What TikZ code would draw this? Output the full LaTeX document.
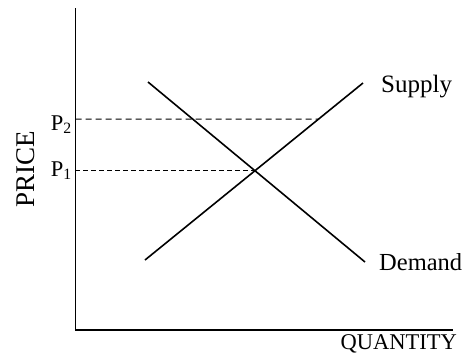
\documentclass[tikz,border=0pt]{standalone}
\usepackage{fontspec}
\setmainfont{Liberation Serif}
\usetikzlibrary{positioning,calc}

\begin{document}
\begin{tikzpicture}[
        x=1pt, y=-1pt,
        % Estilos
        axis/.style={line width=1.5pt},
        curve/.style={line width=1.6pt},
        guide/.style={line width=1pt, dash pattern=on 6pt off 4pt},
        lbl/.style={inner sep=0pt, font=\fontsize{25}{28}\selectfont}
    ]
        \useasboundingbox (0,0) rectangle (466,360);

        % Eixos
        \coordinate (origin) at (75.5,330);
        \coordinate (ytop) at (75.5,8);
        \coordinate (xend) at (453,330);
        \draw [axis] (ytop) -- (origin) -- (xend);

        % Curvas
        \coordinate (s0) at (145,260);
        \coordinate (s1) at (363,83);
        \coordinate (d0) at (148,82);
        \coordinate (d1) at (365,262);
        \draw [curve] (s0) -- (s1);
        \draw [curve] (d0) -- (d1);
        \coordinate (eq) at (intersection of s0--s1 and d0--d1);

        % Precos
        \coordinate (p1tick) at (75.5,171);
        \coordinate (p2tick) at (75.5,119);
        \coordinate (p2far) at (400,119);
        \coordinate (p2s) at (intersection of s0--s1 and p2tick--p2far);
        \draw [guide] (p2tick) -- (p2s);
        \draw [guide, dash pattern=on 5pt off 3pt] (p1tick) -- (eq -| p1tick) -- (eq);

        % Rotulos
        \node (supply) [lbl, anchor=base west] at (381,92) {Supply};
        \node (demand) [lbl, anchor=base west, font=\fontsize{24.5}{28}\selectfont] at (379,270) {Demand};
        \node (qty) [lbl, anchor=base east, font=\fontsize{22.5}{26}\selectfont] at (457,349) {QUANTITY};
        \node (price) [lbl, rotate=90, font=\fontsize{27}{30}\selectfont] at (26,169) {PRICE};
        \node (p2) [lbl, anchor=base east, font=\fontsize{22.5}{26}\selectfont] at (72,130) {P\textsubscript{2}};
        \node (p1) [lbl, anchor=base east, font=\fontsize{22.5}{26}\selectfont] at (72,176) {P\textsubscript{1}};

    \end{tikzpicture}
\end{document}
